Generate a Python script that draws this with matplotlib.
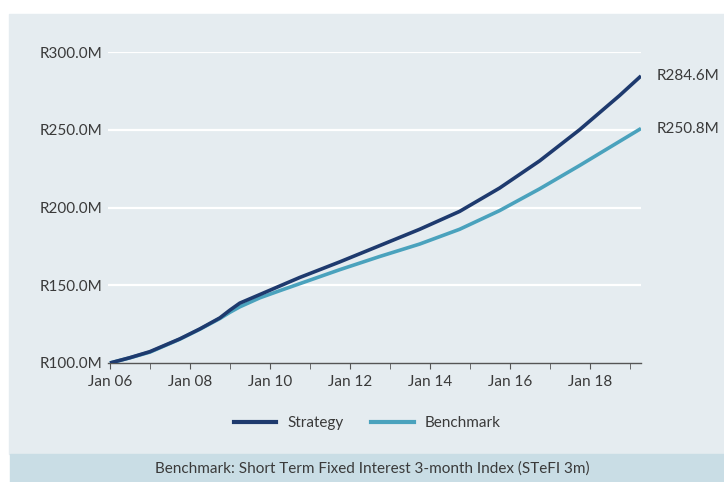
import matplotlib.pyplot as plt
import matplotlib.dates as mdates
from matplotlib.lines import Line2D
from matplotlib.patches import Rectangle
import pandas as pd

# Valores (R milhões)
datas = ["2006-01-01", "2006-07-01", "2007-01-01", "2007-10-01", "2008-04-01",
         "2008-10-01", "2009-01-01", "2009-04-01", "2009-10-01", "2010-04-01",
         "2010-10-01", "2011-10-01", "2012-10-01", "2013-10-01", "2014-10-01",
         "2015-10-01", "2016-10-01", "2017-10-01", "2018-10-01", "2019-04-15"]
strategy = [100.0, 103.4, 107.3, 115.5, 121.9,
            129.0, 134.0, 138.5, 144.0, 149.5,
            155.0, 165.0, 175.5, 186.0, 197.5,
            212.5, 230.0, 250.0, 272.0, 284.6]
benchmark = [100.0, 103.3, 107.0, 115.3, 121.7,
             128.6, 132.6, 136.1, 141.9, 146.5,
             151.0, 160.0, 168.5, 176.5, 186.0,
             198.0, 212.0, 227.0, 242.5, 250.8]
rotulos_fim = ["R284.6M", "R250.8M"]
nota = "Benchmark: Short Term Fixed Interest 3-month Index (STeFI 3m)"

cor_fundo = "#e5ecf0"
cor_rodape = "#c9dde5"
cor_strategy = "#1e3a6e"
cor_benchmark = "#4aa2bd"
cor_texto = "#3a3a3a"

plt.rcParams["font.family"] = ["Lato", "DejaVu Sans"]

fig = plt.figure(figsize=(7.24, 4.82), dpi=100)
fig.patch.set_facecolor("white")
W, H = 724, 482

# painel de fundo e rodapé
fig.add_artist(Rectangle((9 / W, 1 - 454 / H), 1, (454 - 14) / H,
                         transform=fig.transFigure, color=cor_fundo, zorder=0))
fig.add_artist(Rectangle((10 / W, 0), 1, (482 - 454) / H,
                         transform=fig.transFigure, color=cor_rodape, zorder=0))

ax = fig.add_axes([108 / W, 1 - 363 / H, (641 - 108) / W, (363 - 52) / H])
ax.set_facecolor("none")

x = pd.to_datetime(datas)
ax.plot(x, benchmark, color=cor_benchmark, lw=2.6, solid_capstyle="butt",
        solid_joinstyle="round", zorder=3)
ax.plot(x, strategy, color=cor_strategy, lw=2.6, solid_capstyle="butt",
        solid_joinstyle="round", zorder=4)

ax.set_xlim(pd.Timestamp("2005-12-14"), x[-1])
ax.set_ylim(100, 300)

for v in [150, 200, 250, 300]:
    ax.axhline(v, color="white", lw=1.6, zorder=1)

for s in ["left", "right", "top"]:
    ax.spines[s].set_visible(False)
ax.spines["bottom"].set_color("#555555")
ax.spines["bottom"].set_linewidth(1.0)

ax.set_yticks([100, 150, 200, 250, 300])
ax.set_yticklabels([f"R{v:.1f}M" for v in [100, 150, 200, 250, 300]])
ax.tick_params(axis="y", length=0, pad=4, labelsize=11, labelcolor=cor_texto)

ax.xaxis.set_major_locator(mdates.YearLocator(2, month=1, day=1))
ax.xaxis.set_minor_locator(mdates.YearLocator(1, month=1, day=1))
ax.xaxis.set_major_formatter(mdates.DateFormatter("Jan %y"))
ax.tick_params(axis="x", which="both", length=4, color="#555555", direction="out")
ax.tick_params(axis="x", which="major", labelsize=11, labelcolor=cor_texto, pad=5)

# rótulos dos valores finais
ax.text(1.03, (strategy[-1] - 100) / 200, rotulos_fim[0], transform=ax.transAxes,
        ha="left", va="center", fontsize=11, color=cor_texto)
ax.text(1.03, (benchmark[-1] - 100) / 200, rotulos_fim[1], transform=ax.transAxes,
        ha="left", va="center", fontsize=11, color=cor_texto)

handles = [Line2D([], [], color=cor_strategy, lw=3),
           Line2D([], [], color=cor_benchmark, lw=3)]
fig.legend(handles, ["Strategy", "Benchmark"], loc="center",
           bbox_to_anchor=(367 / W, 1 - 423 / H), ncol=2, frameon=False,
           fontsize=11, handlelength=2.8, handletextpad=0.7, columnspacing=1.8,
           labelcolor=cor_texto)

fig.text(372 / W, 1 - 469 / H, nota, ha="center", va="center",
         fontsize=11, color=cor_texto)

fig.savefig("out.png", dpi=100, facecolor=fig.get_facecolor())
